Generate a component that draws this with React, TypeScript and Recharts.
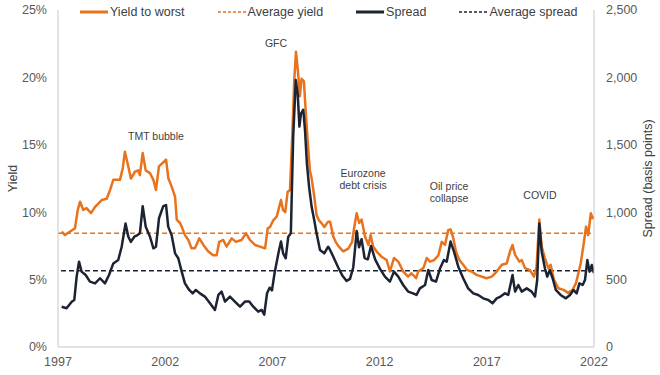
import { LineChart, Line, XAxis, YAxis, ReferenceLine, ReferenceDot } from 'recharts'

document.body.style.margin = '0'

// x values are fractional years, as placed on the original axis
const ytwDates = [
  1997.17, 1997.33, 1997.55, 1997.79, 1997.92, 1998.03, 1998.18, 1998.33, 1998.54, 1998.73,
  1999.04, 1999.27, 1999.43, 1999.58, 1999.89, 2000.02, 2000.12, 2000.25, 2000.4, 2000.59,
  2000.74, 2000.82, 2000.95, 2001.09, 2001.29, 2001.45, 2001.57, 2001.71, 2001.91, 2002.04,
  2002.15, 2002.3, 2002.46, 2002.54, 2002.69, 2002.77, 2002.92, 2003.08, 2003.23, 2003.39,
  2003.59, 2003.78, 2004.01, 2004.24, 2004.4, 2004.52, 2004.71, 2004.86, 2005.1, 2005.3,
  2005.56, 2005.77, 2005.95, 2006.19, 2006.42, 2006.66, 2006.78, 2006.89, 2007.04, 2007.2,
  2007.4, 2007.5, 2007.6, 2007.71, 2007.82, 2007.93, 2008.02, 2008.1, 2008.2, 2008.28,
  2008.36, 2008.47, 2008.55, 2008.64, 2008.75, 2008.82, 2008.95, 2009.06, 2009.17, 2009.3,
  2009.42, 2009.6, 2009.69, 2009.84, 2009.95, 2010.07, 2010.3, 2010.54, 2010.72, 2010.82,
  2010.93, 2011.05, 2011.16, 2011.32, 2011.48, 2011.58, 2011.7, 2011.86, 2012.09, 2012.33,
  2012.48, 2012.67, 2012.87, 2013.1, 2013.33, 2013.49, 2013.7, 2013.8, 2014.04, 2014.2,
  2014.35, 2014.54, 2014.74, 2014.9, 2015.05, 2015.2, 2015.31, 2015.44, 2015.56, 2015.72,
  2015.9, 2016.09, 2016.29, 2016.52, 2016.76, 2016.99, 2017.23, 2017.46, 2017.7, 2017.93,
  2018.08, 2018.2, 2018.32, 2018.52, 2018.63, 2018.78, 2019.01, 2019.2, 2019.32, 2019.45,
  2019.56, 2019.71, 2019.87, 2019.98, 2020.13, 2020.34, 2020.58, 2020.81, 2021.0, 2021.16,
  2021.27, 2021.38, 2021.5, 2021.63, 2021.73, 2021.85, 2021.93, 2022.0,
]
const ytwValues = [
  8.55, 8.31, 8.55, 8.8, 10.16, 10.78, 10.16, 10.3, 9.93, 10.4,
  10.9, 11.0, 11.65, 12.4, 12.4, 13.25, 14.49, 13.6, 12.5, 13.0,
  13.1, 12.75, 14.4, 13.1, 12.9, 12.4, 11.65, 13.4, 13.7, 13.9,
  12.5, 11.9, 11.15, 9.43, 9.2, 8.93, 8.3, 7.94, 7.32, 7.32,
  8.06, 7.57, 7.08, 6.8, 6.8, 7.8, 7.94, 7.45, 8.06, 7.8,
  7.94, 8.43, 7.94, 7.57, 7.45, 7.32, 8.8, 8.9, 9.4, 9.67,
  10.9, 10.15, 10.0, 11.5, 11.65, 15.85, 19.8, 21.91, 20.3, 18.6,
  19.9, 19.7, 17.6, 15.4, 13.1, 12.6, 11.2, 9.8, 9.4, 9.17,
  8.9, 9.3, 9.3, 8.2, 7.8, 7.5, 7.1, 7.3, 7.8, 8.9,
  9.92, 9.2, 9.45, 8.2, 7.57, 8.3, 7.45, 7.08, 6.7, 6.45,
  5.6, 6.6, 6.33, 5.6, 5.22, 5.47, 5.1, 5.6, 5.85, 6.6,
  6.33, 6.45, 6.8, 7.8, 7.57, 8.67, 8.73, 8.06, 7.08, 6.45,
  6.1, 5.7, 5.6, 5.35, 5.22, 5.1, 5.22, 5.6, 6.1, 6.2,
  7.08, 7.57, 6.83, 6.33, 6.45, 5.85, 5.7, 5.22, 5.97, 9.45,
  7.45, 6.6, 5.85, 6.1, 5.0, 4.36, 4.24, 4.0, 4.24, 4.74,
  5.47, 6.2, 7.45, 8.93, 8.3, 9.92, 9.55, 9.7,
]

const spreadDates = [
  1997.17, 1997.4, 1997.64, 1997.76, 1997.87, 1997.98, 1998.1, 1998.29, 1998.49, 1998.73,
  1998.96, 1999.19, 1999.38, 1999.58, 1999.81, 1999.97, 2000.15, 2000.28, 2000.4, 2000.56,
  2000.71, 2000.82, 2000.95, 2001.09, 2001.29, 2001.45, 2001.57, 2001.71, 2001.91, 2002.04,
  2002.14, 2002.3, 2002.46, 2002.61, 2002.77, 2002.92, 2003.12, 2003.28, 2003.43, 2003.62,
  2003.85, 2004.09, 2004.32, 2004.48, 2004.63, 2004.79, 2005.02, 2005.25, 2005.49, 2005.72,
  2005.92, 2006.11, 2006.34, 2006.5, 2006.62, 2006.75, 2006.87, 2006.98, 2007.1, 2007.28,
  2007.4, 2007.5, 2007.62, 2007.74, 2007.86, 2007.97, 2008.09, 2008.18, 2008.26, 2008.33,
  2008.44, 2008.52, 2008.61, 2008.71, 2008.83, 2008.95, 2009.06, 2009.22, 2009.42, 2009.6,
  2009.69, 2009.84, 2010.07, 2010.26, 2010.46, 2010.62, 2010.77, 2010.85, 2010.93, 2011.04,
  2011.16, 2011.3, 2011.45, 2011.6, 2011.79, 2012.02, 2012.25, 2012.48, 2012.67, 2012.87,
  2013.1, 2013.33, 2013.56, 2013.72, 2013.88, 2014.12, 2014.27, 2014.43, 2014.63, 2014.82,
  2015.0, 2015.13, 2015.31, 2015.47, 2015.67, 2015.9, 2016.13, 2016.37, 2016.6, 2016.83,
  2017.07, 2017.27, 2017.46, 2017.64, 2017.85, 2018.0, 2018.2, 2018.32, 2018.47, 2018.63,
  2018.86, 2019.09, 2019.25, 2019.35, 2019.45, 2019.56, 2019.71, 2019.82, 2019.94, 2020.07,
  2020.22, 2020.44, 2020.69, 2020.88, 2021.04, 2021.19, 2021.32, 2021.47, 2021.58, 2021.69,
  2021.79, 2021.9, 2022.0,
]
const spreadValues = [
  299, 287, 336, 349, 522, 633, 559, 534, 485, 472,
  510, 472, 534, 620, 645, 744, 917, 818, 780, 818,
  830, 843, 1045, 893, 818, 732, 744, 955, 1045, 1053,
  893, 830, 695, 658, 559, 472, 423, 398, 423, 398,
  374, 324, 275, 386, 411, 337, 374, 337, 299, 337,
  337, 299, 262, 275, 240, 399, 440, 420, 547, 695,
  782, 695, 658, 818, 843, 1560, 1980, 1880, 1635, 1730,
  1760, 1610, 1360, 1190, 1040, 942, 843, 720, 695, 744,
  720, 670, 590, 530, 490, 505, 590, 720, 860, 740,
  800, 660, 650, 750, 650, 580, 522, 485, 559, 522,
  460, 411, 398, 386, 435, 460, 571, 497, 485, 584,
  645, 633, 782, 707, 596, 510, 435, 398, 386, 361,
  349, 324, 361, 374, 398, 386, 534, 411, 460, 411,
  435, 411, 374, 497, 917, 707, 584, 522, 571, 510,
  423, 386, 361, 386, 423, 398, 472, 460, 497, 645,
  559, 608, 547,
]

const AVG_YIELD = 8.43
const AVG_SPREAD = 565

const xTicks = [1997, 2002, 2007, 2012, 2017, 2022]
const yieldTicks = [0, 5, 10, 15, 20, 25]
const spreadTicks = [0, 500, 1000, 1500, 2000, 2500]

const annotations = [
  { x: 2001.57, y: 15.65, text: 'TMT bubble' },
  { x: 2007.17, y: 22.55, text: 'GFC' },
  { x: 2011.23, y: 12.91, text: 'Eurozone' },
  { x: 2011.23, y: 12.02, text: 'debt crisis' },
  { x: 2015.24, y: 11.94, text: 'Oil price' },
  { x: 2015.24, y: 11.05, text: 'collapse' },
  { x: 2019.48, y: 11.28, text: 'COVID' },
]

const ORANGE = '#E8731C'
const NAVY = '#1C2333'
const AXIS = '#C8C8C8'
const TEXT = '#404040'
const FONT = 'Arial, "Liberation Sans", sans-serif'

const ytwData = ytwDates.map((x, i) => ({ x, y: ytwValues[i] }))
const spreadData = spreadDates.map((x, i) => ({ x, y: spreadValues[i] }))

const legendItems = [
  { label: 'Yield to worst', color: ORANGE, dashed: false },
  { label: 'Average yield', color: ORANGE, dashed: true },
  { label: 'Spread', color: NAVY, dashed: false },
  { label: 'Average spread', color: NAVY, dashed: true },
]

// rotated axis title, placed at a fixed spot beside the axis
function AxisTitle({ text, cx }: { text: string; cx: number }) {
  const cy = 178.5
  return (
    <text
      x={cx}
      y={cy}
      transform={`rotate(-90 ${cx} ${cy})`}
      textAnchor="middle"
      dominantBaseline="central"
      fontSize={12.5}
      fill={TEXT}
      fontFamily={FONT}
    >
      {text}
    </text>
  )
}

function Legend() {
  return (
    <div
      style={{
        position: 'absolute', top: 4, left: 80, display: 'flex', gap: 33,
        fontFamily: FONT, fontSize: 12.5, color: TEXT, lineHeight: '16px',
      }}
    >
      {legendItems.map((it) => (
        <div key={it.label} style={{ display: 'flex', alignItems: 'center', gap: 2 }}>
          <svg width={28} height={6}>
            <line
              x1={0} y1={3} x2={28} y2={3}
              stroke={it.color}
              strokeWidth={it.dashed ? 1.5 : 3}
              strokeDasharray={it.dashed ? '3 2' : undefined}
            />
          </svg>
          <span>{it.label}</span>
        </div>
      ))}
    </div>
  )
}

export default function App() {
  const tick = { fontSize: 12.5, fill: '#595959', fontFamily: FONT }
  return (
    <div style={{ position: 'relative', width: 660, height: 375 }}>
      <LineChart width={660} height={375} margin={{ top: 10, right: 0, left: 0, bottom: 0 }}>
        <XAxis
          type="number"
          dataKey="x"
          domain={[1997, 2022]}
          ticks={xTicks}
          allowDataOverflow
          height={28}
          stroke={AXIS}
          tickLine={false}
          tickSize={0}
          tickMargin={10}
          tick={tick}
        />
        <YAxis
          yAxisId="left"
          domain={[0, 25]}
          ticks={yieldTicks}
          width={58}
          stroke={AXIS}
          tickLine={false}
          tickSize={0}
          tickMargin={11}
          tick={tick}
          tickFormatter={(v) => `${v}%`}
          label={<AxisTitle text="Yield" cx={13} />}
        />
        <YAxis
          yAxisId="right"
          orientation="right"
          domain={[0, 2500]}
          ticks={spreadTicks}
          width={66}
          stroke={AXIS}
          tickLine={false}
          tickSize={0}
          tickMargin={12}
          tick={tick}
          tickFormatter={(v) => v.toLocaleString('en-US')}
          label={<AxisTitle text="Spread (basis points)" cx={648} />}
        />
        <ReferenceLine yAxisId="left" y={AVG_YIELD} stroke={ORANGE} strokeWidth={1.5} strokeDasharray="5 3" />
        <ReferenceLine yAxisId="right" y={AVG_SPREAD} stroke={NAVY} strokeWidth={1.5} strokeDasharray="5 3" />
        <Line
          yAxisId="left"
          data={ytwData}
          dataKey="y"
          name="Yield to worst"
          stroke={ORANGE}
          strokeWidth={2.5}
          strokeLinejoin="round"
          dot={false}
          isAnimationActive={false}
        />
        <Line
          yAxisId="right"
          data={spreadData}
          dataKey="y"
          name="Spread"
          stroke={NAVY}
          strokeWidth={2.5}
          strokeLinejoin="round"
          dot={false}
          isAnimationActive={false}
        />
        {annotations.map((a) => (
          <ReferenceDot
            key={a.text}
            yAxisId="left"
            x={a.x}
            y={a.y}
            r={0}
            stroke="none"
            fill="none"
            label={{ value: a.text, position: 'center', fontSize: 10.5, fill: TEXT, fontFamily: FONT }}
          />
        ))}
      </LineChart>
      <Legend />
    </div>
  )
}
